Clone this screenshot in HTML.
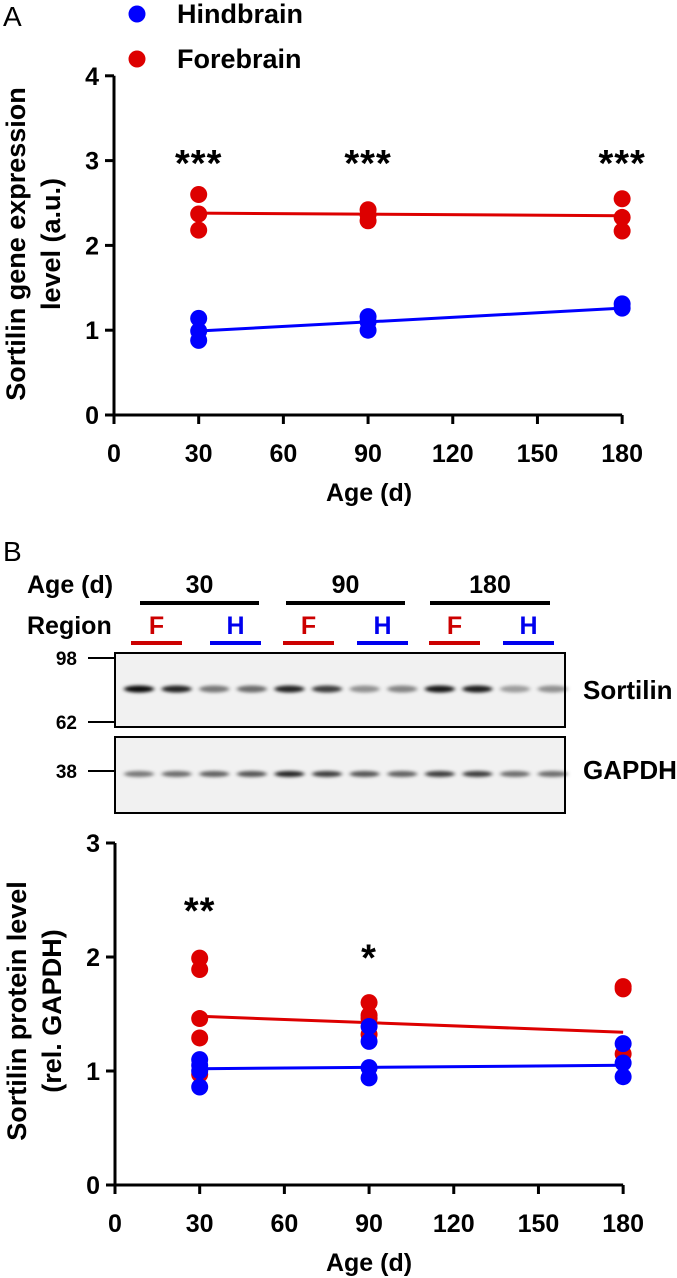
<!DOCTYPE html>
<html><head><meta charset="utf-8">
<style>
html,body{margin:0;padding:0;background:#fff;}
svg{display:block;font-family:"Liberation Sans",Arial,sans-serif;}
</style></head>
<body>
<svg id="fig" width="677" height="1278" viewBox="0 0 677 1278" xmlns="http://www.w3.org/2000/svg">
<defs>
<filter id="blur" x="-20%" y="-100%" width="140%" height="300%"><feGaussianBlur stdDeviation="2.2 1.6"/></filter>
</defs>
<text x="3" y="26" font-size="28">A</text>
<g>
<circle cx="137" cy="14" r="8.5" fill="#0000ff"/>
<text x="177" y="23" font-size="27" font-weight="bold">Hindbrain</text>
<circle cx="137" cy="59" r="8.5" fill="#dd0000"/>
<text x="177" y="68" font-size="27" font-weight="bold">Forebrain</text>
</g>
<g id="chartA"></g>
<text x="3" y="561" font-size="28">B</text>
<g id="blot"></g>
<g id="chartB"></g>
</svg>
<script>
const NS="http://www.w3.org/2000/svg";
const ageTicks=[0,30,60,90,120,150,180];
const ages=[30,90,180];
// Panel A data
const aTicksY=[0,1,2,3,4];
const aFore=[[2.6,2.37,2.18],[2.42,2.36,2.29],[2.55,2.33,2.17]];
const aHind=[[1.14,0.99,0.88],[1.16,1.1,1.0],[1.31,1.26]];
const aForeFit=[2.38,2.35];
const aHindFit=[0.99,1.26];
const aStars=["***","***","***"];
const aStarY=[3.04,3.04,3.04];
// Panel B data
const bTicksY=[0,1,2,3];
const bFore=[[1.99,1.89,1.46,1.29,0.97],[1.6,1.49,1.46,1.32],[1.74,1.72,1.15]];
const bHind=[[1.1,1.05,1.0,0.86],[1.39,1.26,1.03,0.94],[1.24,1.07,0.95]];
const bForeFit=[1.48,1.34];
const bHindFit=[1.02,1.05];
const bStars=["**","*",""];
const bStarY=[2.46,2.05,0];
// Blot band intensities (12 lanes)
const sortBands=[0.95,0.85,0.5,0.55,0.85,0.75,0.4,0.45,0.9,0.88,0.35,0.4];
const gapdhBands=[0.5,0.55,0.6,0.65,0.85,0.75,0.65,0.6,0.75,0.75,0.55,0.55];

function el(tag,attrs,parent,txt){const e=document.createElementNS(NS,tag);for(const k in attrs)e.setAttribute(k,attrs[k]);if(txt!==undefined)e.textContent=txt;parent.appendChild(e);return e;}

function chart(g,cfg){
  const X=v=>cfg.x0+v*cfg.kx, Y=v=>cfg.y0-v*cfg.ky;
  const yMax=cfg.ticksY[cfg.ticksY.length-1];
  let a=el('line',{x1:X(0),y1:Y(yMax),x2:X(0),y2:Y(0)+1.5,stroke:'#000','stroke-width':3},g);
  
  
  a=el('line',{x1:X(0)-1.5,y1:Y(0),x2:X(180),y2:Y(0),stroke:'#000','stroke-width':3},g);
  
  
  cfg.ticksY.forEach(t=>{
    let l=el('line',{x1:X(0)-9,y1:Y(t),x2:X(0),y2:Y(t),stroke:'#000','stroke-width':3},g);
    
    
    let tx=el('text',{x:X(0)-15,y:Y(t)+9,'font-size':25,'font-weight':'bold','text-anchor':'end'},g,String(t));
    
    
  });
  ageTicks.forEach(t=>{
    let l=el('line',{x1:X(t),y1:Y(0),x2:X(t),y2:Y(0)+9,stroke:'#000','stroke-width':3},g);
    
    
    let tx=el('text',{x:X(t),y:Y(0)+47,'font-size':25,'font-weight':'bold','text-anchor':'middle'},g,String(t));
    
    
  });
  let xt=el('text',{x:369,y:Y(0)+86,'font-size':25,'font-weight':'bold','text-anchor':'middle'},g,'Age (d)');
  
  
  const yt=el('text',{transform:`translate(${cfg.titleX},${cfg.titleY}) rotate(-90)`,'font-size':cfg.titleSize,'font-weight':'bold','text-anchor':'middle'},g);
  
  
  el('tspan',{x:0,y:0},yt,cfg.title[0]);
  el('tspan',{x:0,y:35},yt,cfg.title[1]);
  const fits=[[cfg.foreFit,'#dd0000','forebrain-fit-line'],[cfg.hindFit,'#0000ff','hindbrain-fit-line']];
  const series=[[cfg.fore,'#dd0000','forebrain-point'],[cfg.hind,'#0000ff','hindbrain-point']];
  series.forEach(([data,col,nm],si)=>{
    const fl=fits[si];
    let ln=el('line',{x1:X(ages[0]),y1:Y(fl[0][0]),x2:X(ages[2]),y2:Y(fl[0][1]),stroke:fl[1],'stroke-width':3},g);
    
    
    data.forEach((vals,i)=>vals.forEach(v=>{
      let c=el('circle',{cx:X(ages[i]),cy:Y(v),r:8.5,fill:col},g);
      
      
    }));
  });
  cfg.stars.forEach((s,i)=>{ if(!s)return;
    let t=el('text',{x:X(ages[i]),y:Y(cfg.starY[i])+19,'font-size':38,'font-weight':'bold','text-anchor':'middle','letter-spacing':'1'},g,s);
    
    
  });
}
chart(document.getElementById('chartA'),{x0:114,kx:2.823,y0:415,ky:84.8,ticksY:aTicksY,fore:aFore,hind:aHind,foreFit:aForeFit,hindFit:aHindFit,stars:aStars,starY:aStarY,title:['Sortilin gene expression','level (a.u.)'],titleX:25,titleY:244,titleSize:27});
chart(document.getElementById('chartB'),{x0:115,kx:2.823,y0:1185,ky:114,ticksY:bTicksY,fore:bFore,hind:bHind,foreFit:bForeFit,hindFit:bHindFit,stars:bStars,starY:bStarY,title:['Sortilin protein level','(rel. GAPDH)'],titleX:26,titleY:1011,titleSize:27});

// Blot
const bg=document.getElementById('blot');
function bt(x,y,s,size,col,anchor,nm){let t=el('text',{x:x,y:y,'font-size':size,'font-weight':'bold',fill:col||'#000','text-anchor':anchor||'start'},bg,s);return t;}
bt(27,593,'Age (d)',25,'#000','start','age-row-label');
bt(27,634,'Region',25,'#000','start','region-row-label');
const blackBars=[[140,259,'30'],[286,405,'90'],[430,550,'180']];
blackBars.forEach(b=>{let r=el('rect',{x:b[0],y:601,width:b[1]-b[0],height:4,fill:'#000'},bg);
  bt((b[0]+b[1])/2,593,b[2],25,'#000','middle','age-group-label');});
const colBars=[[131,'F','#cc0000'],[210,'H','#0000ee'],[283,'F','#cc0000'],[357,'H','#0000ee'],[429,'F','#cc0000'],[503,'H','#0000ee']];
colBars.forEach(b=>{let r=el('rect',{x:b[0],y:641,width:51,height:4,fill:b[2]},bg);
  bt(b[0]+25.5,634,b[1],25,b[2],'middle','region-label');});
function box(y1,y2,nm){let r=el('rect',{x:115,y:y1,width:450,height:y2-y1,fill:'#f1f1f1',stroke:'#000','stroke-width':2},bg);}
box(653,727,'sortilin-blot');
box(737,813,'gapdh-blot');
function bands(arr,y,h){arr.forEach((v,i)=>{const cx=139+i*37.6;let e=el('ellipse',{cx:cx,cy:y,rx:15,ry:h,fill:'#000','fill-opacity':v,filter:'url(#blur)'},bg);});}
bands(sortBands,689,3.5);
bands(gapdhBands,774,3);
[[658,'98'],[722,'62'],[771,'38']].forEach(m=>{let l=el('line',{x1:88,y1:m[0],x2:114,y2:m[0],stroke:'#000','stroke-width':2},bg);
  bt(77,m[0]+7,m[1],19,'#000','end','mw-marker-label');});
bt(583,699,'Sortilin',26,'#000','start','sortilin-blot-label');
bt(583,779,'GAPDH',26,'#000','start','gapdh-blot-label');
</script>
</body></html>
